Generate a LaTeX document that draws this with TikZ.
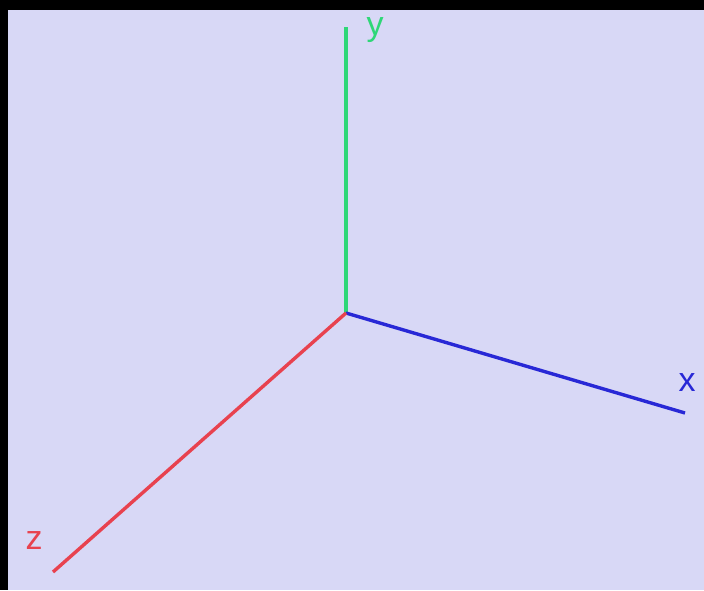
\documentclass[tikz,border=0pt]{standalone}
\usepackage{fontspec}
\setmainfont{Liberation Sans}
\usepackage{tikz}
\usetikzlibrary{positioning}
\definecolor{bgviolet}{HTML}{D8D8F6}
\definecolor{axisgreen}{HTML}{2ED777}
\definecolor{axisblue}{HTML}{2828D6}
\definecolor{axisred}{HTML}{E8424F}

\begin{document}
\begin{tikzpicture}[
    x=1pt, y=1pt,
    axis/.style={line width=3.4pt},
    every node/.style={font=\fontsize{34}{34}\selectfont, inner sep=0pt}
]
\fill[black] (0,0) rectangle (704,590);
\fill[bgviolet] (8,0) rectangle (704,580);
\coordinate (o) at (346,277);
\coordinate (ytip) at (346,563);
\coordinate (xtip) at (685,177);
\coordinate (ztip) at (53,18);
\draw[axis, axisgreen, line width=4.2pt] (o) -- (ytip);
\draw[axis, axisblue] (o) -- (xtip);
\draw[axis, axisred] (o) -- (ztip);
\node[axisgreen] (ylabel) at (375,560) {y};
\node[axisblue] (xlabel) at (687,207) {x};
\node[axisred] (zlabel) at (34,49) {z};
\end{tikzpicture}
\end{document}
